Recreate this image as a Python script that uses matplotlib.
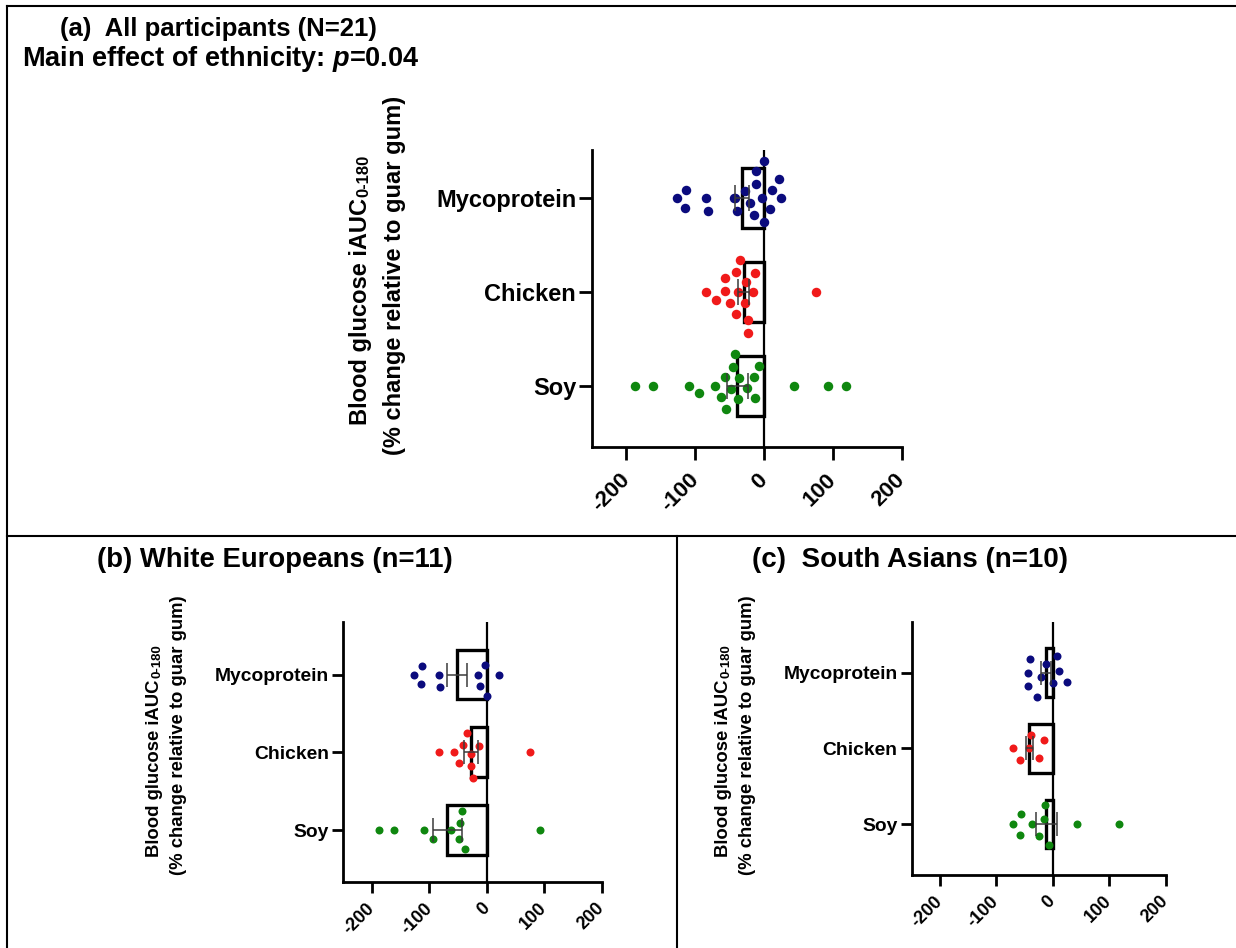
import numpy as np
import matplotlib
matplotlib.use("Agg")
import matplotlib.pyplot as plt
from matplotlib.lines import Line2D

plt.rcParams["font.family"] = ["Liberation Sans", "DejaVu Sans"]
plt.rcParams["font.weight"] = "bold"
plt.rcParams["mathtext.fontset"] = "custom"
plt.rcParams["mathtext.rm"] = "Liberation Sans:bold"
plt.rcParams["mathtext.it"] = "Liberation Sans:bold:italic"
plt.rcParams["mathtext.bf"] = "Liberation Sans:bold"

# ---------------------------------------------------------------- data
categories = ["Mycoprotein", "Chicken", "Soy"]
point_colors = ["#0b0b7d", "#f01a1a", "#0f870f"]
x_ticks = [-200, -100, 0, 100, 200]
x_tick_labels = ["-200", "-100", "0", "100", "200"]

# % change in blood glucose iAUC relative to guar gum, per participant
we_myco = [-115, -3, -82, -113, -12, 21, -84, -127, -15, 0]
we_chicken = [-28, -57, -41, -27, -13, -84, 75, -49, -35, -24]
we_soy = [-48, -43, -187, -162, -109, -94, -63, -46, -38, 93]

sa_myco = [-43, -28, -12, 8, -40, -21, 11, 25, -44, 0]
sa_chicken = [-57, -38, -16, -70, -41, -24]
sa_soy = [-57, -13, -56, -37, -15, 43, 118, -71, -25, -7]

# group mean and SEM (Mycoprotein, Chicken, Soy)
all_mean = [-32, -30, -39]
all_sem = [10, 8, 15]
we_mean = [-52, -27, -69]
we_sem = [18, 12, 25]
sa_mean = [-12, -41, -11]
sa_sem = [9, 7, 18]

title_a = "(a)  All participants (N=21)"
subtitle_a = "Main effect of ethnicity: $p$=0.04"
title_b = "(b) White Europeans (n=11)"
title_c = "(c)  South Asians (n=10)"
ylabel_main = "Blood glucose iAUC"
ylabel_sub = "0-180"
ylabel_line2 = "(% change relative to guar gum)"

# ---------------------------------------------------------------- figure
W, H = 1236, 948
fig = plt.figure(figsize=(W / 100, H / 100), dpi=100)
fig.patch.set_facecolor("white")


def px_axes(left, top, right, bottom):
    return fig.add_axes([left / W, 1 - bottom / H, (right - left) / W, (bottom - top) / H])


def swarm(xpix, d):
    """Greedy beeswarm: vertical pixel offsets so markers do not overlap."""
    xpix = np.asarray(xpix, float)
    off = np.zeros(len(xpix))
    px_list, py_list = [], []
    for i in np.argsort(xpix, kind="stable"):
        x = xpix[i]
        cands = [0.0]
        for px, py in zip(px_list, py_list):
            dx = abs(x - px)
            if dx < d:
                dy = np.sqrt(d * d - dx * dx)
                cands += [py + dy, py - dy]
        cands = sorted(set(np.round(cands, 5)), key=lambda c: (abs(c), -c))
        chosen = 0.0
        for c in cands:
            if all((x - px) ** 2 + (c - py) ** 2 >= d * d - 1e-4
                   for px, py in zip(px_list, py_list)):
                chosen = c
                break
        off[i] = chosen
        px_list.append(x)
        py_list.append(chosen)
    return off


def draw_panel(ax, groups, means, sems, ylim, ytick_fs, xtick_fs, tick_len,
               xpad, marker_px, gap, capsize):
    ax.set_xlim(-250, 200)
    ax.set_ylim(*ylim)
    ypos = np.arange(len(categories))

    ax.barh(ypos, means, height=0.64, left=0, color="white", edgecolor="black",
            linewidth=2.4, zorder=2)
    ax.axvline(0, color="black", lw=1.6, zorder=2.5)

    # pixel scale for the swarm layout
    x_per_px = (ax.get_xlim()[1] - ax.get_xlim()[0]) / (ax.bbox.width)
    y_per_px = abs(ax.get_ylim()[1] - ax.get_ylim()[0]) / (ax.bbox.height)
    size_pt = marker_px * 72 / fig.dpi
    for k, vals in enumerate(groups):
        vals = np.asarray(vals, float)
        offs = swarm(vals / x_per_px, marker_px * gap)
        ax.scatter(vals, k + offs * y_per_px, s=size_pt ** 2, color=point_colors[k],
                   linewidths=0, zorder=3)

    ax.errorbar(means, ypos, xerr=sems, fmt="none", ecolor="#3a3a3a",
                elinewidth=1.1, capsize=capsize, capthick=1.1, zorder=4)

    for side in ("top", "right"):
        ax.spines[side].set_visible(False)
    for side in ("left", "bottom"):
        ax.spines[side].set_linewidth(2.0)
    ax.set_yticks(ypos)
    ax.set_yticklabels(categories, fontsize=ytick_fs, fontweight="bold")
    ax.set_xticks(x_ticks)
    ax.set_xticklabels(x_tick_labels, fontsize=xtick_fs, fontweight="bold",
                       rotation=45, ha="right", va="center", rotation_mode="anchor")
    ax.tick_params(axis="y", length=tick_len, width=2.0, pad=2)
    ax.tick_params(axis="x", length=tick_len, width=2.0, pad=xpad)


def vlabel(x_base, y_center, size, sub_size, x_base2, y_center2):
    r = fig.canvas.get_renderer()
    t1 = fig.text(0, 0, ylabel_main, fontsize=size, fontweight="bold", rotation=90,
                  rotation_mode="anchor", ha="left", va="baseline")
    t2 = fig.text(0, 0, ylabel_sub, fontsize=sub_size, fontweight="bold", rotation=90,
                  rotation_mode="anchor", ha="left", va="baseline")
    w1 = t1.get_window_extent(r).height
    w2 = t2.get_window_extent(r).height
    y0 = y_center + (w1 + w2) / 2
    t1.set_position((x_base / W, 1 - y0 / H))
    t2.set_position(((x_base + 1.5) / W, 1 - (y0 - w1 - 1) / H))
    fig.text(x_base2 / W, 1 - y_center2 / H, ylabel_line2, fontsize=size,
             fontweight="bold", rotation=90, rotation_mode="anchor",
             ha="center", va="baseline")


# panel (a): all participants
ax_a = px_axes(592, 150, 902, 446.7)
draw_panel(ax_a,
           [we_myco + sa_myco, we_chicken + sa_chicken, we_soy + sa_soy],
           all_mean, all_sem, (2.65, -0.515), 17, 16, 9.4, 12.5, 9.5, 1.35, 9.4)

# panel (b): White Europeans
ax_b = px_axes(343, 621.7, 602, 882.3)
draw_panel(ax_b, [we_myco, we_chicken, we_soy], we_mean, we_sem,
           (2.67, -0.68), 13.9, 13, 8.0, 9.0, 8.0, 1.5, 8.6)

# panel (c): South Asians
ax_c = px_axes(911.5, 621.7, 1165.5, 875)
draw_panel(ax_c, [sa_myco, sa_chicken, sa_soy], sa_mean, sa_sem,
           (2.67, -0.67), 13.9, 13, 8.0, 9.0, 8.0, 1.7, 8.6)

# axis titles
vlabel(366.7, 290, 17, 12, 400.7, 275)
vlabel(159.3, 751, 13.3, 9.5, 183.3, 735)
vlabel(727.8, 751, 13.3, 9.5, 751.8, 735)

# panel headings
fig.text(60 / W, 1 - 36 / H, title_a, fontsize=18.5, fontweight="bold", va="baseline")
fig.text(22 / W, 1 - 66 / H, subtitle_a, fontsize=19.5, fontweight="bold", va="baseline")
fig.text(97 / W, 1 - 567 / H, title_b, fontsize=19.8, fontweight="bold", va="baseline")
fig.text(752 / W, 1 - 567 / H, title_c, fontsize=20, fontweight="bold", va="baseline")

# frame lines between panels
def hline(y, x0, x1):
    fig.add_artist(Line2D([x0 / W, x1 / W], [1 - y / H, 1 - y / H], color="black",
                          lw=1.5, transform=fig.transFigure))


def vline(x, y0, y1):
    fig.add_artist(Line2D([x / W, x / W], [1 - y0 / H, 1 - y1 / H], color="black",
                          lw=1.5, transform=fig.transFigure))


hline(6, 7, W)
hline(536, 7, W)
vline(7, 6, H)
vline(677, 536, H)

fig.savefig("out.png", dpi=100, facecolor="white")
